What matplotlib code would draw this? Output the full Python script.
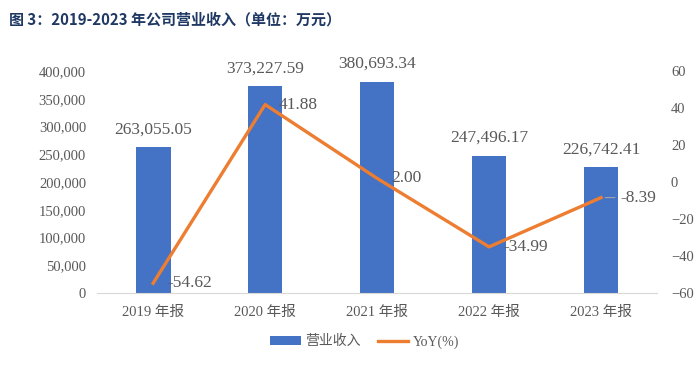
import matplotlib.pyplot as plt
import numpy as np

plt.rcParams['font.family'] = ['Liberation Serif', 'Noto Sans CJK SC']

years = ['2019 年报', '2020 年报', '2021 年报', '2022 年报', '2023 年报']
revenue = [263055.05, 373227.59, 380693.34, 247496.17, 226742.41]
yoy = [-54.62, 41.88, 2.00, -34.99, -8.39]

bar_color = '#4472C4'
line_color = '#ED7D31'
txt_color = '#595959'

x = np.arange(len(years))

fig = plt.figure(figsize=(6.99, 3.66), dpi=100)
ax = fig.add_axes([0.139, 0.199, 0.801, 0.607])
ax2 = ax.twinx()

bars = ax.bar(x, revenue, 0.31, color=bar_color, label='营业收入', zorder=2)
ax.set_ylim(0, 400000)
ax.set_yticks(np.arange(0, 400001, 50000))
ax.set_yticklabels([f'{v:,}' for v in range(0, 400001, 50000)])
ax.set_xlim(-0.5, len(years) - 0.5)
ax.set_xticks(x)
ax.set_xticklabels(years)

# bar value labels
for xi, v in zip(x, revenue):
    ax.annotate(f'{v:,.2f}', (xi, v), xytext=(0, 7), textcoords='offset points',
                ha='center', va='bottom', fontsize=12.5, color=txt_color)

line, = ax2.plot(x, yoy, color=line_color, linewidth=2.4, label='YoY(%)', zorder=3)
ax2.set_ylim(-60, 60)
ax2.set_yticks(np.arange(-60, 61, 20))

# line value labels (last one has a small leader line)
for i, (xi, v) in enumerate(zip(x, yoy)):
    if i == len(yoy) - 1:
        ax2.annotate(f'{v:.2f}', (xi, v), xytext=(14, 0), textcoords='offset points',
                     ha='left', va='center', fontsize=12.5, color=txt_color,
                     arrowprops=dict(arrowstyle='-', color='#A6A6A6', lw=0.8,
                                     shrinkA=2, shrinkB=3))
    else:
        ax2.annotate(f'{v:.2f}', (xi, v), xytext=(10, 0), textcoords='offset points',
                     ha='left', va='center', fontsize=12.5, color=txt_color)

for a in (ax, ax2):
    for s in ['top', 'left', 'right', 'bottom']:
        a.spines[s].set_visible(False)
    a.tick_params(length=0, labelsize=10.5, labelcolor=txt_color)
ax.spines['bottom'].set_visible(True)
ax.spines['bottom'].set_color('#D9D9D9')
ax.tick_params(axis='y', pad=8)
ax.tick_params(axis='x', pad=9)
ax2.tick_params(axis='y', pad=10)

ax2.set_zorder(ax.get_zorder() + 1)
ax2.patch.set_visible(False)

fig.legend(handles=[bars, line], labels=['营业收入', 'YoY(%)'], loc='center',
           bbox_to_anchor=(0.522, 0.066), ncol=2, frameon=False, fontsize=10,
           labelcolor=txt_color, handlelength=2.2, columnspacing=1.2, handletextpad=0.35)

fig.text(0.013, 0.948, '图 3：2019-2023 年公司营业收入（单位：万元）',
         family=['Noto Sans CJK SC'], fontweight='bold', fontsize=10.8,
         color='#1F3864', ha='left', va='center')

plt.savefig('out.png', dpi=100)
